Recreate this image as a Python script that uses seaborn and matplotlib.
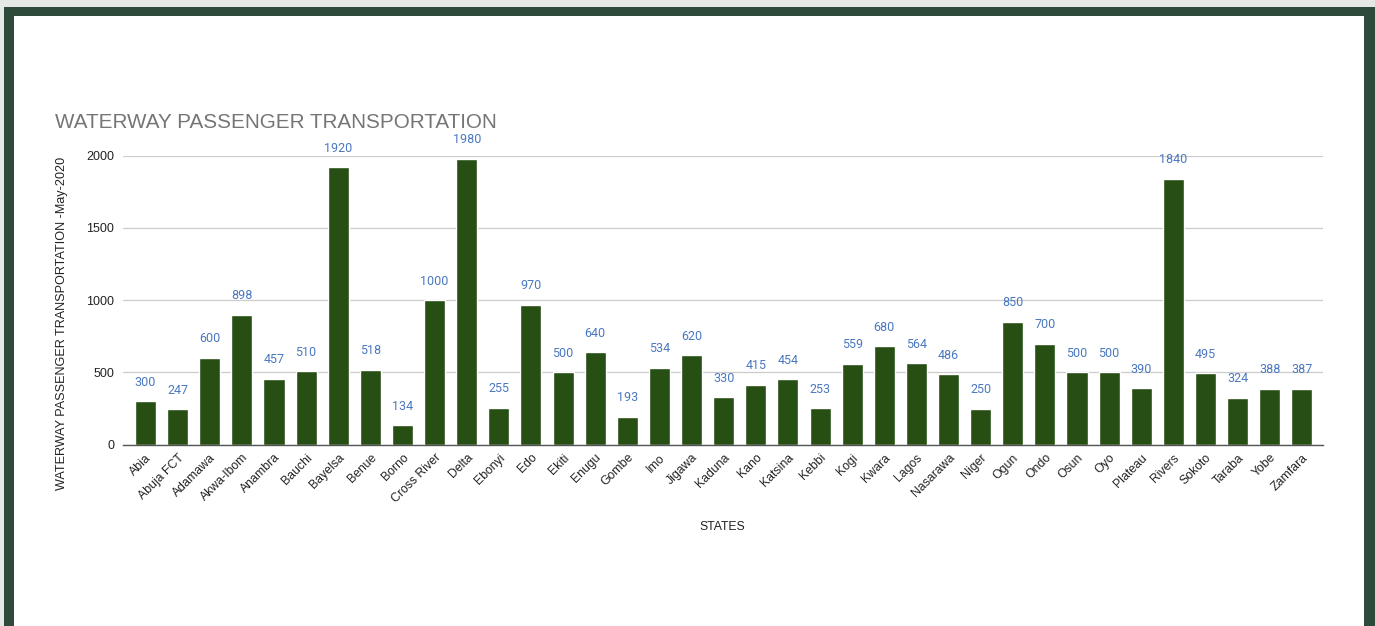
import matplotlib
matplotlib.use("Agg")
import matplotlib.pyplot as plt
from matplotlib.patches import Rectangle
import seaborn as sns
import pandas as pd

states = [
    "Abia", "Abuja FCT", "Adamawa", "Akwa-Ibom", "Anambra", "Bauchi", "Bayelsa",
    "Benue", "Borno", "Cross River", "Delta", "Ebonyi", "Edo", "Ekiti", "Enugu",
    "Gombe", "Imo", "Jigawa", "Kaduna", "Kano", "Katsina", "Kebbi", "Kogi",
    "Kwara", "Lagos", "Nasarawa", "Niger", "Ogun", "Ondo", "Osun", "Oyo",
    "Plateau", "Rivers", "Sokoto", "Taraba", "Yobe", "Zamfara",
]
passengers = [
    300, 247, 600, 898, 457, 510, 1920, 518, 134, 1000, 1980, 255, 970, 500,
    640, 193, 534, 620, 330, 415, 454, 253, 559, 680, 564, 486, 250, 850, 700,
    500, 500, 390, 1840, 495, 324, 388, 387,
]
yticks = [0, 500, 1000, 1500, 2000]

df = pd.DataFrame({"state": states, "passengers": passengers})

sns.set_theme(style="white")
plt.rcParams["font.family"] = ["Liberation Sans", "DejaVu Sans"]

W, H = 1375, 626
fig = plt.figure(figsize=(W / 100, H / 100), dpi=100)

# page frame: light grey edge, dark green border, white card
fig.patches.append(Rectangle((0, 0), 1, 1, transform=fig.transFigure,
                             facecolor="#e6e8e6", edgecolor="none", zorder=-3))
fig.patches.append(Rectangle((4 / W, 0), 1, 1 - 7 / H, transform=fig.transFigure,
                             facecolor="#2e4a3a", edgecolor="none", zorder=-2))
fig.patches.append(Rectangle((14 / W, 0), (1364 - 14) / W, 1 - 16 / H,
                             transform=fig.transFigure,
                             facecolor="white", edgecolor="none", zorder=-1))

ax = fig.add_axes([122.7 / W, 1 - 444.7 / H, 1200 / W, (444.7 - 155.7) / H])
ax.set_facecolor("none")

sns.barplot(data=df, x="state", y="passengers", color="#274e13",
            saturation=1, width=0.655, ax=ax, zorder=3)

ax.bar_label(ax.containers[0], labels=[str(v) for v in passengers],
             padding=9, color="#4a78c0", fontsize=9, family="Roboto")

ax.set_ylim(0, 2000)
ax.set_xlim(-0.71, len(states) - 0.35)
ax.set_yticks(yticks)
ax.set_yticklabels([str(t) for t in yticks], fontsize=9, color="#222222")
ax.grid(axis="y", color="#cccccc", linewidth=0.9, zorder=0)
ax.set_axisbelow(True)

for side in ["top", "right", "left"]:
    ax.spines[side].set_visible(False)
ax.spines["bottom"].set_color("#555555")
ax.spines["bottom"].set_linewidth(1.0)
ax.spines["bottom"].set_zorder(4)
ax.tick_params(axis="both", length=0, pad=6)

ax.set_xticks(range(len(states)))
ax.set_xticklabels(states, rotation=45, ha="right", rotation_mode="anchor",
                   fontsize=8.8, color="#222222")
ax.tick_params(axis="x", pad=5)

ax.set_xlabel("")
ax.set_ylabel("")

fig.text(55 / W, 1 - 128 / H, "WATERWAY PASSENGER TRANSPORTATION",
         fontsize=14.85, color="#757575", va="baseline", ha="left")
fig.text(62 / W, 1 - 323 / H, "WATERWAY PASSENGER TRANSPORTATION -May-2020",
         fontsize=9.1, color="#222222", rotation=90, va="center", ha="center")
fig.text(722 / W, 1 - 527 / H, "STATES", fontsize=8.8, color="#222222",
         va="center", ha="center")

fig.savefig("out.png", dpi=100)
